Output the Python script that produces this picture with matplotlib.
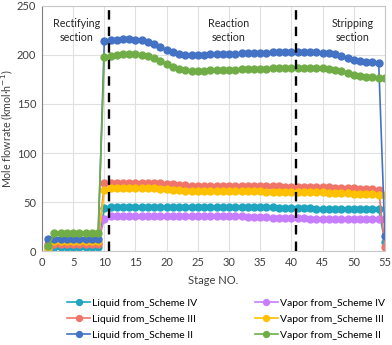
import matplotlib
matplotlib.use("Agg")
import matplotlib.pyplot as plt
import numpy as np

plt.rcParams['font.family'] = ['Lato', 'DejaVu Sans']

stages = list(range(1, 56))

liquid_II = ([12]*9 +
             [214, 215, 215.5, 216, 216, 215.5, 215, 213, 211, 208, 205, 203, 201, 200, 200] +
             [200, 200, 200.5, 200.5, 201, 201, 201, 201.5, 201.5, 202, 202, 202, 202.5, 202.5, 203, 203] +
             [203, 203, 203, 202.5, 202, 201.5, 200.5, 199, 197, 195, 194, 193, 193, 192] +
             [15])
vapor_II = ([5] + [18]*8 +
            [198, 199, 200, 200.5, 201, 200.5, 200, 199, 197, 194, 191, 188, 186, 185, 184] +
            [184, 184, 184.5, 184.5, 185, 185, 185, 185.5, 185.5, 186, 186, 186, 186.5, 186.5, 187, 187] +
            [187, 187, 187, 187, 186.5, 186, 185, 184, 182, 180, 179, 178, 177, 176.5] +
            [176])
liquid_III = ([7]*9 +
              [69, 69.5, 69.5, 69.5, 69.5, 69.5, 69.5, 69.5, 69, 69, 68.5, 68, 67.5, 67, 66.5] +
              [66, 66, 66, 66, 66, 66, 66, 66, 66, 66, 66, 66, 66, 66, 65.5, 65.5] +
              [65.5, 65.5, 65, 65, 65, 65, 64.5, 64.5, 64, 64, 63.5, 63, 63, 62.5] +
              [4])
vapor_III = ([3] + [10]*8 +
             [62, 64.5, 64.5, 64.5, 64.5, 64.5, 64.5, 64.5, 64, 63.5, 63, 62.5, 62, 61.5, 61] +
             [61, 61, 61, 61, 61, 61, 61, 61, 61, 61, 61, 60.5, 60.5, 60.5, 60.5, 60.5] +
             [60, 60, 60, 60, 60, 59.5, 59.5, 59, 59, 58.5, 58.5, 58, 58, 57.5] +
             [57.5])
liquid_IV = ([4]*9 +
             [44] + [45.5]*14 +
             [45.5, 45.5, 45.5, 45.5, 45.5, 45.5, 45.5, 45, 45, 45, 45, 44.5, 44.5, 44, 44, 43.5] +
             [43.5, 43.5, 43.5] + [43]*11 +
             [9])
vapor_IV = ([2] + [8]*8 +
            [33] + [35.5]*14 +
            [35.5]*8 + [35, 35, 34.5, 34.5, 34, 34, 33.5, 33.5] +
            [33.5, 33.5] + [33]*12 +
            [33])

series = [
    ("Liquid from_Scheme IV", liquid_IV, "#1fa5bf"),
    ("Vapor from_Scheme IV", vapor_IV, "#c77dff"),
    ("Liquid from_Scheme III", liquid_III, "#f07468"),
    ("Vapor from_Scheme III", vapor_III, "#ffc000"),
    ("Liquid from_Scheme II", liquid_II, "#4472c4"),
    ("Vapor from_Scheme II", vapor_II, "#70ad47"),
]

section_lines = [10.7, 40.8]
section_labels = [("Rectifying\nsection", 5.6), ("Reaction\nsection", 30.0), ("Stripping\nsection", 49.8)]

fig = plt.figure(figsize=(3.92, 3.45), dpi=100)
ax = fig.add_axes([0.107, 0.272, 0.875, 0.711])

handles = {}
for name, vals, col in series:
    h, = ax.plot(stages, vals, '-o', color=col, lw=1.2, ms=5.0, mec=col, label=name)
    handles[name] = h

for xv in section_lines:
    ax.axvline(xv, color='black', ls=(0, (4, 3)), lw=1.7, zorder=5)

for txt, xv in section_labels:
    ax.text(xv, 225, txt, ha='center', va='center', fontsize=7.7, color='#262626', linespacing=1.35)

ax.set_xlim(0, 55)
ax.set_ylim(0, 250)
ax.set_xticks(range(0, 56, 5))
ax.set_yticks(range(0, 251, 50))
ax.grid(True, color='#e0e0e0', lw=0.8)
ax.set_axisbelow(True)
ax.tick_params(length=0, labelsize=8, colors='#404040', pad=4)
for s in ['top', 'right', 'bottom']:
    ax.spines[s].set_color('#c8c8c8')
ax.spines['left'].set_color('#7f7f7f')

ax.set_xlabel("Stage NO.", fontsize=8, color='#404040', labelpad=5)
ax.set_ylabel("Mole flowrate (kmol·h$^{-1}$)", fontsize=7.7, color='#404040')
ax.yaxis.set_label_coords(-0.08, 0.5)

order = ["Liquid from_Scheme IV", "Liquid from_Scheme III", "Liquid from_Scheme II",
         "Vapor from_Scheme IV", "Vapor from_Scheme III", "Vapor from_Scheme II"]
fig.legend([handles[n] for n in order], order, ncol=2, loc='center',
           bbox_to_anchor=(0.577, 0.075), frameon=False, fontsize=7.5,
           handlelength=2.2, handletextpad=0.2, columnspacing=5.5, labelspacing=0.65,
           markerscale=0.85)

fig.savefig("out.png", dpi=100)
